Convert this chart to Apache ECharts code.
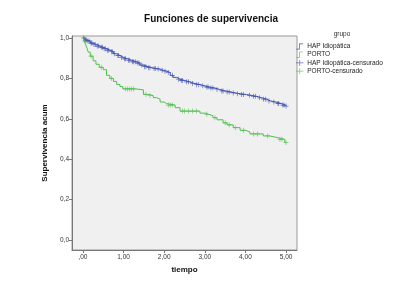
<!DOCTYPE html>
<html>
<head>
<meta charset="utf-8">
<script src="https://cdn.jsdelivr.net/npm/echarts@6/dist/echarts.min.js"></script>
<style>
  html, body { margin: 0; padding: 0; background: #fff; }
  #main { width: 404px; height: 304px; }
</style>
</head>
<body>
<div id="main"></div>
<script>
// Kaplan-Meier steps: time of drop and survival after it
const hapTimes = [0, 0.05, 0.1, 0.18, 0.25, 0.33, 0.42, 0.5, 0.58, 0.66, 0.75, 0.83, 0.91, 1.0, 1.1, 1.2, 1.32, 1.4, 1.5, 1.6, 1.7, 1.81, 1.9, 1.98, 2.06, 2.15, 2.22, 2.31, 2.39, 2.5, 2.63, 2.75, 2.88, 3.0, 3.12, 3.25, 3.37, 3.5, 3.62, 3.75, 3.87, 4.03, 4.15, 4.28, 4.4, 4.52, 4.62, 4.75, 4.88, 4.98, 5.0];
const hapSurv = [1.0, 0.99, 0.985, 0.975, 0.968, 0.96, 0.954, 0.947, 0.94, 0.932, 0.922, 0.913, 0.904, 0.897, 0.89, 0.882, 0.876, 0.866, 0.858, 0.853, 0.849, 0.846, 0.84, 0.836, 0.829, 0.815, 0.805, 0.796, 0.79, 0.783, 0.775, 0.769, 0.763, 0.757, 0.752, 0.745, 0.738, 0.733, 0.728, 0.724, 0.72, 0.716, 0.711, 0.704, 0.697, 0.688, 0.683, 0.676, 0.668, 0.663, 0.663];
const portoTimes = [0, 0.03, 0.06, 0.1, 0.13, 0.18, 0.25, 0.32, 0.4, 0.5, 0.58, 0.66, 0.75, 0.83, 0.91, 0.98, 1.3, 1.49, 1.6, 1.73, 1.81, 1.9, 2.0, 2.06, 2.27, 2.39, 2.88, 3.0, 3.1, 3.2, 3.3, 3.45, 3.55, 3.7, 3.87, 4.0, 4.11, 4.44, 4.6, 4.8, 4.97, 5.0];
const portoSurv = [1.0, 0.985, 0.97, 0.95, 0.93, 0.91, 0.887, 0.87, 0.855, 0.843, 0.815, 0.8, 0.785, 0.77, 0.76, 0.748, 0.743, 0.721, 0.715, 0.705, 0.697, 0.683, 0.675, 0.668, 0.655, 0.638, 0.628, 0.622, 0.615, 0.605, 0.595, 0.58, 0.57, 0.556, 0.543, 0.535, 0.525, 0.515, 0.506, 0.498, 0.482, 0.482];
// censored observation times
const hapCensor = [0.02, 0.06, 0.08, 0.12, 0.15, 0.2, 0.22, 0.27, 0.3, 0.35, 0.38, 0.45, 0.48, 0.52, 0.55, 0.6, 0.63, 0.7, 0.73, 0.78, 0.86, 0.88, 0.95, 1.02, 1.05, 1.12, 1.15, 1.22, 1.25, 1.3, 1.35, 1.38, 1.45, 1.52, 1.55, 1.62, 1.65, 1.75, 1.78, 1.85, 1.95, 2.02, 2.1, 2.2, 2.35, 2.42, 2.45, 2.55, 2.6, 2.7, 2.8, 2.85, 2.95, 3.05, 3.08, 3.15, 3.2, 3.3, 3.42, 3.45, 3.55, 3.6, 3.7, 3.8, 3.9, 3.95, 4.1, 4.2, 4.25, 4.35, 4.45, 4.5, 4.58, 4.7, 4.8, 4.82, 4.92, 4.95, 5.0];
const portoCensor = [0.02, 0.05, 0.2, 0.45, 0.7, 1.05, 1.1, 1.15, 1.2, 1.25, 1.55, 1.65, 2.1, 2.15, 2.2, 2.45, 2.5, 2.6, 2.7, 2.8, 3.05, 3.25, 3.5, 3.6, 3.75, 3.95, 4.2, 4.3, 4.55, 4.85, 4.9, 5.0];
const xTicks = [0, 1, 2, 3, 4, 5];
const yTicks = [0, 0.2, 0.4, 0.6, 0.8, 1.0];

const blue = '#3f51b0';
const green = '#52bf52';
const font = 'Liberation Sans, Arial, sans-serif';

function survAt(times, surv, t) {
  let s = surv[0];
  for (let i = 0; i < times.length; i++) {
    if (times[i] <= t) s = surv[i];
  }
  return s;
}

const pairs = (xs, ys) => xs.map((x, i) => [x, ys[i]]);
const censorPts = (c, times, surv) => c.map(t => [t, survAt(times, surv, t)]);

const stepIcon = 'path://M0,9H4V1H10V2H5V10H0Z';
const plusIcon = 'path://M0,4.5H10V5.5H0Z M4.5,1H5.5V9H4.5Z';
const plusSym = 'path://M4.3,0H5.7V4.3H10V5.7H5.7V10H4.3V5.7H0V4.3H4.3Z';

const chart = echarts.init(document.getElementById('main'));
chart.setOption({
  animation: false,
  textStyle: {fontFamily: font},
  title: [
    {
      text: 'Funciones de supervivencia',
      left: 211, top: 14, padding: 0, textAlign: 'center',
      textStyle: {fontSize: 10, fontWeight: 'bold', color: '#111', fontFamily: font}
    },
    {
      text: 'grupo',
      left: 342, top: 31, padding: 0, textAlign: 'center',
      textStyle: {fontSize: 6.5, fontWeight: 'normal', color: '#333', fontFamily: font}
    }
  ],
  legend: {
    orient: 'vertical',
    left: 296, top: 43,
    padding: 0,
    itemWidth: 11, itemHeight: 6, itemGap: 1.2,
    textStyle: {fontSize: 6.5, color: '#222', padding: [0, 0, 0, -3]},
    data: [
      {name: 'HAP Idiopática', icon: stepIcon},
      {name: 'PORTO', icon: stepIcon},
      {name: 'HAP Idiopática-censurado', icon: plusIcon},
      {name: 'PORTO-censurado', icon: plusIcon}
    ]
  },
  grid: {
    left: 72, right: 107, top: 36, bottom: 54,
    show: true, backgroundColor: '#f0f0f0', borderColor: '#999', borderWidth: 1
  },
  xAxis: {
    type: 'value', min: -0.27, max: 5.27,
    name: 'tiempo', nameLocation: 'middle', nameGap: 15,
    nameTextStyle: {fontSize: 8, fontWeight: 'bold', color: '#111'},
    axisLine: {show: true, onZero: false, lineStyle: {color: '#777'}},
    axisTick: {show: true, length: 3, lineStyle: {color: '#777'}, customValues: xTicks},
    axisLabel: {
      fontSize: 6.5, color: '#333', margin: 4, customValues: xTicks,
      formatter: v => (v === 0 ? ',00' : v.toFixed(2).replace('.', ','))
    },
    splitLine: {show: false}
  },
  yAxis: {
    type: 'value', min: -0.05, max: 1.01,
    name: 'Supervivencia acum', nameLocation: 'middle', nameGap: 16,
    nameTextStyle: {fontSize: 8, fontWeight: 'bold', color: '#111'},
    axisLine: {show: true, onZero: false, lineStyle: {color: '#777'}},
    axisTick: {show: true, length: 3, lineStyle: {color: '#777'}, customValues: yTicks},
    axisLabel: {
      fontSize: 6.5, color: '#333', margin: 3, customValues: yTicks,
      formatter: v => v.toFixed(1).replace('.', ',')
    },
    splitLine: {show: false}
  },
  series: [
    {
      name: 'HAP Idiopática', type: 'line', step: 'end',
      data: pairs(hapTimes, hapSurv), showSymbol: false,
      lineStyle: {color: blue, width: 1}, itemStyle: {color: blue}
    },
    {
      name: 'PORTO', type: 'line', step: 'end',
      data: pairs(portoTimes, portoSurv), showSymbol: false,
      lineStyle: {color: green, width: 1}, itemStyle: {color: green}
    },
    {
      name: 'HAP Idiopática-censurado', type: 'scatter',
      data: censorPts(hapCensor, hapTimes, hapSurv),
      symbol: plusSym, symbolSize: 5, itemStyle: {color: blue}
    },
    {
      name: 'PORTO-censurado', type: 'scatter',
      data: censorPts(portoCensor, portoTimes, portoSurv),
      symbol: plusSym, symbolSize: 5, itemStyle: {color: green}
    }
  ]
});
</script>
</body>
</html>
